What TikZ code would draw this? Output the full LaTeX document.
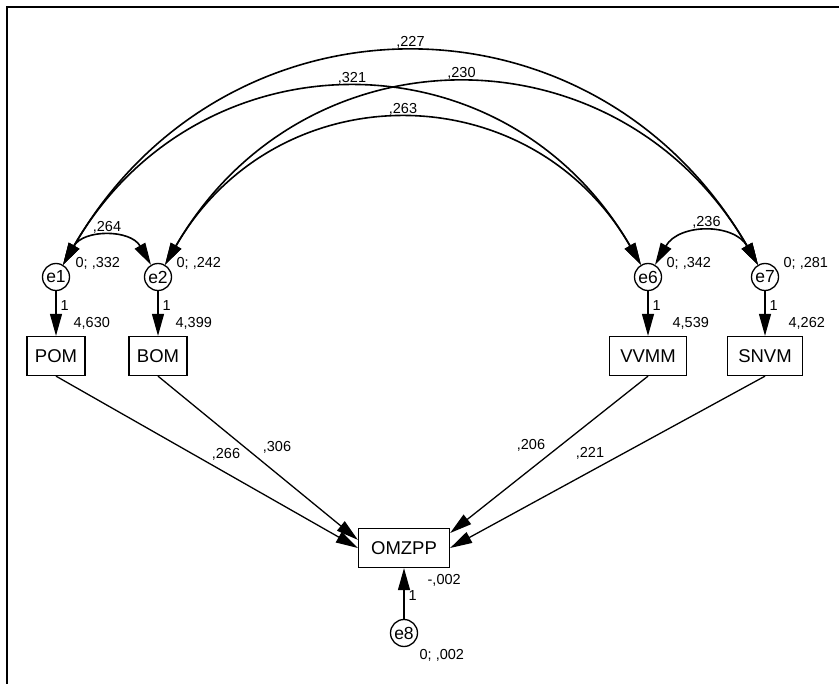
\documentclass[tikz,border=0pt]{standalone}
\usepackage{fontspec}
\setmainfont{Liberation Sans}
\usetikzlibrary{arrows.meta}

\tikzset{
  obs/.style={draw, line width=1.3pt, minimum height=39pt, inner sep=0pt, font=\fontsize{18.5}{20}\selectfont},
  err/.style={draw, circle, line width=1.3pt, minimum size=27pt, inner sep=0pt, font=\fontsize{17.5}{18}\selectfont},
  lbl/.style={font=\fontsize{14.5}{16}\selectfont, inner sep=0pt},
  cov/.style={<->, line width=1.6pt, out=60, in=120, looseness=1.2},
}

\begin{document}
\begin{tikzpicture}[>={Triangle[length=22pt,width=12pt]}, x=1pt, y=1pt, line width=1.3pt]
            \useasboundingbox (0,0) rectangle (839,-684);
            % Frame
            \draw[line width=1.5pt] (7,-684) -- (7,-7) -- (839,-7);
            % Error terms
            \node[err] (e1) at (56,-277) {e1};
            \node[err] (e2) at (158,-277) {e2};
            \node[err] (e6) at (648,-277) {e6};
            \node[err] (e7) at (765,-277) {e7};
            % Observed variables
            \node[obs, minimum width=58pt] (POM) at (56,-356) {POM};
            \node[obs, minimum width=58pt] (BOM) at (158,-356) {BOM};
            \node[obs, minimum width=77pt] (VVMM) at (648,-356) {VVMM};
            \node[obs, minimum width=75pt] (SNVM) at (765,-356) {SNVM};
            \node[obs, minimum width=91pt] (OMZPP) at (404,-548) {OMZPP};
            \node[err] (e8) at (404,-633) {e8};
            % Error paths fixed to 1
            \draw[->] (e1) -- node[lbl, pos=.33, right=4pt] (w1) {1} (POM);
            \draw[->] (e2) -- node[lbl, pos=.33, right=4pt] (w2) {1} (BOM);
            \draw[->] (e6) -- node[lbl, pos=.33, right=4pt] (w6) {1} (VVMM);
            \draw[->] (e7) -- node[lbl, pos=.33, right=4pt] (w7) {1} (SNVM);
            \draw[->] (e8) -- node[lbl, pos=.46, right=4pt] (w8) {1} (OMZPP);
            % Covariances between error terms
            \draw[cov] (e1) to node[lbl, midway, above=4pt] (c17) {,227} (e7);
            \draw[cov] (e1) to node[lbl, midway, above=4pt] (c16) {,321} (e6);
            \draw[cov] (e2) to node[lbl, midway, above=4pt] (c27) {,230} (e7);
            \draw[cov] (e2) to node[lbl, midway, above=4pt] (c26) {,263} (e6);
            \draw[cov] (e1) to node[lbl, midway, above=4pt] (c12) {,264} (e2);
            \draw[cov] (e6) to node[lbl, midway, above=4pt] (c67) {,236} (e7);
            % Regression paths
            \draw[->] (POM.south) -- (OMZPP.west);
            \draw[->] (BOM.south) -- (OMZPP.170);
            \draw[->] (VVMM.south) -- (OMZPP.18);
            \draw[->] (SNVM.south) -- (OMZPP.east);
            % Label the estimates
            \node[lbl] (b1) at (226,-454) {,266};
            \node[lbl] (b2) at (277,-447) {,306};
            \node[lbl] (b6) at (531,-445) {,206};
            \node[lbl] (b7) at (590,-453) {,221};
            \node[lbl, anchor=west] (v1) at (75,-263) {0; ,332};
            \node[lbl, anchor=west] (v2) at (176,-263) {0; ,242};
            \node[lbl, anchor=west] (v6) at (666,-263) {0; ,342};
            \node[lbl, anchor=west] (v7) at (783,-263) {0; ,281};
            \node[lbl, anchor=west] (m1) at (73,-323) {4,630};
            \node[lbl, anchor=west] (m2) at (175,-323) {4,399};
            \node[lbl, anchor=west] (m6) at (672,-323) {4,539};
            \node[lbl, anchor=west] (m7) at (788,-323) {4,262};
            \node[lbl, anchor=west] (m8) at (427,-580) {-,002};
            \node[lbl, anchor=west] (v8) at (419,-655) {0; ,002};
    \end{tikzpicture}
\end{document}
